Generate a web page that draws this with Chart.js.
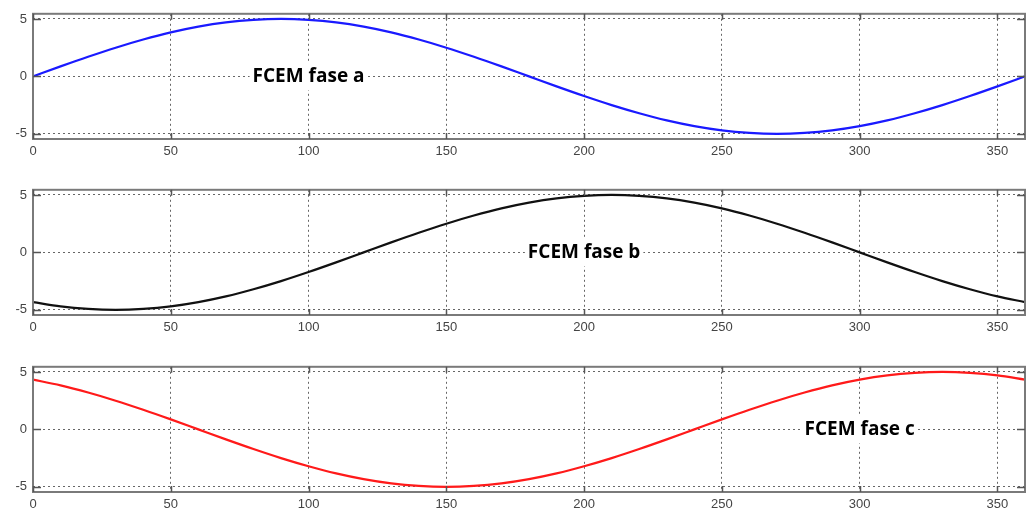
<!DOCTYPE html>
<html>
<head>
<meta charset="utf-8">
<script src="https://cdn.jsdelivr.net/npm/chart.js@4/dist/chart.umd.min.js"></script>
<style>
  body { margin: 0; background: #fff; }
  .panel { position: absolute; left: 0; width: 1030px; height: 176px; }
</style>
</head>
<body>
<div class="panel" style="top:0px"><canvas id="chartA"></canvas></div>
<div class="panel" style="top:176px"><canvas id="chartB"></canvas></div>
<div class="panel" style="top:353px"><canvas id="chartC"></canvas></div>
<script>
// angle (degrees) sampled every 10
const angles = [0,10,20,30,40,50,60,70,80,90,100,110,120,130,140,150,160,170,180,
                190,200,210,220,230,240,250,260,270,280,290,300,310,320,330,340,350,360];

// FCEM values
const faseA = [0,0.87,1.71,2.5,3.21,3.83,4.33,4.7,4.92,5,4.92,4.7,4.33,3.83,3.21,2.5,1.71,0.87,0,
               -0.87,-1.71,-2.5,-3.21,-3.83,-4.33,-4.7,-4.92,-5,-4.92,-4.7,-4.33,-3.83,-3.21,-2.5,-1.71,-0.87,0];
const faseB = [-4.33,-4.7,-4.92,-5,-4.92,-4.7,-4.33,-3.83,-3.21,-2.5,-1.71,-0.87,0,0.87,1.71,2.5,3.21,3.83,4.33,
               4.7,4.92,5,4.92,4.7,4.33,3.83,3.21,2.5,1.71,0.87,0,-0.87,-1.71,-2.5,-3.21,-3.83,-4.33];
const faseC = [4.33,3.83,3.21,2.5,1.71,0.87,0,-0.87,-1.71,-2.5,-3.21,-3.83,-4.33,-4.7,-4.92,-5,-4.92,-4.7,-4.33,
               -3.83,-3.21,-2.5,-1.71,-0.87,0,0.87,1.71,2.5,3.21,3.83,4.33,4.7,4.92,5,4.92,4.7,4.33];

const xTicks = [0,50,100,150,200,250,300,350];
const yTicks = [-5,0,5];

// box around plot area + label with white background
const boxPlugin = {
    id: 'boxPlugin',
    afterDraw(chart, args, opts) {
        const ctx = chart.ctx;
        const a = chart.chartArea;
        ctx.save();
        ctx.strokeStyle = '#7a7a7a';
        ctx.lineWidth = 2;
        ctx.strokeRect(a.left, a.top, a.right - a.left, a.bottom - a.top);
        // short tick marks inside the box
        ctx.strokeStyle = '#555';
        ctx.lineWidth = 1.5;
        chart.scales.y.ticks.forEach(t => {
            const py = Math.round(chart.scales.y.getPixelForValue(t.value)) + 0.5;
            ctx.beginPath();
            ctx.moveTo(a.left, py); ctx.lineTo(a.left + 8, py);
            ctx.moveTo(a.right, py); ctx.lineTo(a.right - 8, py);
            ctx.stroke();
        });
        chart.scales.x.ticks.forEach(t => {
            const px = Math.round(chart.scales.x.getPixelForValue(t.value)) + 0.5;
            ctx.beginPath();
            ctx.moveTo(px, a.bottom); ctx.lineTo(px, a.bottom - 6);
            ctx.moveTo(px, a.top); ctx.lineTo(px, a.top + 6);
            ctx.stroke();
        });
        // label
        const lx = chart.scales.x.getPixelForValue(opts.x);
        const ly = chart.scales.y.getPixelForValue(opts.y);
        ctx.font = 'bold 19px "Open Sans", "Liberation Sans", sans-serif';
        const w = ctx.measureText(opts.text).width;
        ctx.fillStyle = '#fff';
        ctx.fillRect(lx - w / 2 - 3, ly - 14, w + 6, 28);
        ctx.fillStyle = '#000';
        ctx.textAlign = 'center';
        ctx.textBaseline = 'middle';
        ctx.fillText(opts.text, lx, ly);
        ctx.restore();
    }
};

function makeChart(id, values, color, label, lx) {
    const points = angles.map((x, i) => ({ x: x, y: values[i] }));
    return new Chart(document.getElementById(id), {
        type: 'line',
        data: {
            datasets: [{
                data: points,
                borderColor: color,
                borderWidth: 2.2,
                pointRadius: 0,
                cubicInterpolationMode: 'monotone'
            }]
        },
        options: {
            responsive: true,
            maintainAspectRatio: false,
            animation: false,
            layout: { padding: { top: 12, right: 5, left: 0, bottom: 0 } },
            plugins: {
                legend: { display: false },
                tooltip: { enabled: false },
                boxPlugin: { text: label, x: lx, y: 0 }
            },
            scales: {
                x: {
                    type: 'linear',
                    min: 0,
                    max: 360,
                    afterBuildTicks: s => { s.ticks = xTicks.map(v => ({ value: v })); },
                    afterFit: s => { s.height = 37; },
                    grid: { color: '#666', lineWidth: 1, drawTicks: false },
                    border: { display: false, dash: [2, 3] },
                    ticks: { color: '#444', padding: 5, maxRotation: 0, font: { family: 'Liberation Sans, Arial', size: 13 } }
                },
                y: {
                    min: -5.45,
                    max: 5.45,
                    afterBuildTicks: s => { s.ticks = yTicks.map(v => ({ value: v })); },
                    afterFit: s => { s.width = 33; },
                    grid: { color: '#666', lineWidth: 1, drawTicks: false },
                    border: { display: false, dash: [2, 3] },
                    ticks: { color: '#444', padding: 6, font: { family: 'Liberation Sans, Arial', size: 13 } }
                }
            }
        },
        plugins: [boxPlugin]
    });
}

makeChart('chartA', faseA, '#1a1aff', 'FCEM fase a', 100);
makeChart('chartB', faseB, '#111111', 'FCEM fase b', 200);
makeChart('chartC', faseC, '#ff1a1a', 'FCEM fase c', 300);
</script>
</body>
</html>
